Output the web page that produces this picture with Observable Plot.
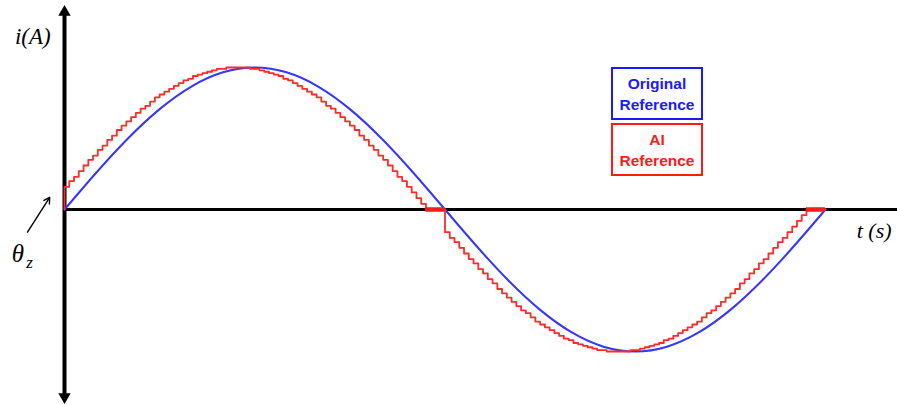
<!DOCTYPE html>
<html>
<head>
<meta charset="utf-8">
<script src="https://cdn.jsdelivr.net/npm/d3@7"></script>
<script src="https://cdn.jsdelivr.net/npm/@observablehq/plot@0.6"></script>
<style>
  html, body { margin: 0; padding: 0; background: #fff; }
  #chart { position: relative; width: 897px; height: 405px; }
  .key {
    position: absolute; box-sizing: border-box; width: 92px; height: 53px;
    display: flex; flex-direction: column; justify-content: center; align-items: center;
    font-family: "Liberation Sans", Arial, sans-serif; font-weight: bold; font-size: 15.5px;
    line-height: 21px; background: #fff;
  }
</style>
</head>
<body>
<div id="chart"></div>
<script>
// Electrical angle grid (degrees) for the sampled "AI" reference current
const RED_STEP = 2.25;
// AI reference current (% of peak), one value per sample, held until the next sample
const redCurrent = [
  16, 20, 23, 27, 31, 35, 38, 42, 45, 49, 52, 56, 59, 62, 65, 68, 71, 73, 76, 79,
  81, 83, 85, 87, 89, 91, 92, 94, 95, 96, 97, 98, 99, 99, 100, 100, 100,
  100, 100, 99, 99, 98, 97, 96, 95, 94, 92, 91, 89, 87, 85, 83, 81, 79, 76, 73,
  71, 68, 65, 62, 59, 56, 52, 49, 45, 42, 38, 35, 31, 27, 23, 20, 16, 12, 8, 4,
  0, 0, 0, 0,
  -16, -20, -23, -27, -31, -35, -38, -42, -45, -49, -52, -56, -59, -62, -65, -68, -71, -73, -76, -79,
  -81, -83, -85, -87, -89, -91, -92, -94, -95, -96, -97, -98, -99, -99, -100, -100, -100,
  -100, -100, -99, -99, -98, -97, -96, -95, -94, -92, -91, -89, -87, -85, -83, -81, -79, -76, -73,
  -71, -68, -65, -62, -59, -56, -52, -49, -45, -42, -38, -35, -31, -27, -23, -20, -16, -12, -8, -4,
  0, 0, 0, 0,
  0
];
// Dead-zone intervals of the AI reference (degrees), where it sits on zero
const redZeroFrom = [171, 351];
const redZeroTo = [180, 360];

// Original reference current (% of peak) every 15 degrees
const BLUE_STEP = 15;
const blueCurrent = [
  0, 25.9, 50, 70.7, 86.6, 96.6, 100, 96.6, 86.6, 70.7, 50, 25.9,
  0, -25.9, -50, -70.7, -86.6, -96.6, -100, -96.6, -86.6, -70.7, -50, -25.9, 0
];

// Legend entries
const seriesNames = [["Original", "Reference"], ["AI", "Reference"]];
const seriesColors = ["#1a1aff", "#ff1a1a"];

const blueData = blueCurrent.map((v, k) => ({t: k * BLUE_STEP, i: v}));
const redData = [{t: 0, i: 0}, ...redCurrent.map((v, k) => ({t: k * RED_STEP, i: v}))];
const zeroSpans = redZeroFrom.map((f, k) => ({from: f, to: redZeroTo[k]}));

const mathFont = "'Liberation Serif', 'DejaVu Serif', serif";

const chart = Plot.plot({
  width: 897,
  height: 405,
  marginLeft: 64,
  marginRight: 72,
  marginTop: 67,
  marginBottom: 54,
  x: {domain: [0, 360], axis: null},
  y: {domain: [-100, 100], axis: null},
  marks: [
    // time axis, running to the right edge
    Plot.ruleY([0], {x1: 0, x2: 400, stroke: "black", strokeWidth: 3}),
    // current axis with arrowheads at both ends
    Plot.ruleX([0], {y1: -132, y2: 139, stroke: "black", strokeWidth: 4}),
    Plot.dot([{y: 139, turn: 0}, {y: -132, turn: 180}], {
      x: 0, y: "y", rotate: "turn", symbol: "triangle", r: 4.6, fill: "black", stroke: "none"
    }),
    // original reference: smooth sinusoid
    Plot.line(blueData, {x: "t", y: "i", curve: "natural", stroke: "#3535ff", strokeWidth: 2}),
    // AI reference: sampled and held
    Plot.line(redData, {x: "t", y: "i", curve: "step-after", stroke: "#ff2a2a", strokeWidth: 1.8}),
    Plot.ruleY(zeroSpans, {x1: "from", x2: "to", y: 0, stroke: "#ff1a1a", strokeWidth: 4.5}),
    // axis titles
    Plot.text(["i(A)"], {x: -15, y: 122, fontFamily: mathFont, fontStyle: "italic", fontSize: 23, fill: "black"}),
    Plot.text(["t (s)"], {x: 383, y: -15, fontFamily: mathFont, fontStyle: "italic", fontSize: 22, fill: "black"}),
    Plot.text(["θ"], {x: -22, y: -31, fontFamily: mathFont, fontStyle: "italic", fontSize: 25, fill: "black"}),
    Plot.text(["z"], {x: -16.5, y: -37.5, fontFamily: mathFont, fontStyle: "italic", fontSize: 17, fill: "black"}),
    Plot.arrow([0], {x1: -17.5, y1: -16, x2: -7, y2: 8.5, headLength: 7, strokeWidth: 1.4, stroke: "black"})
  ]
});

const host = document.getElementById("chart");
host.appendChild(chart);

// Boxed legend in the upper right of the plot
const keyTops = [67, 123];
seriesNames.forEach((lines, k) => {
  const box = document.createElement("div");
  box.className = "key";
  box.style.left = "611px";
  box.style.top = keyTops[k] + "px";
  box.style.border = "2px solid " + seriesColors[k];
  box.style.color = seriesColors[k];
  lines.forEach(s => {
    const span = document.createElement("span");
    span.textContent = s;
    box.appendChild(span);
  });
  host.appendChild(box);
});
</script>
</body>
</html>
